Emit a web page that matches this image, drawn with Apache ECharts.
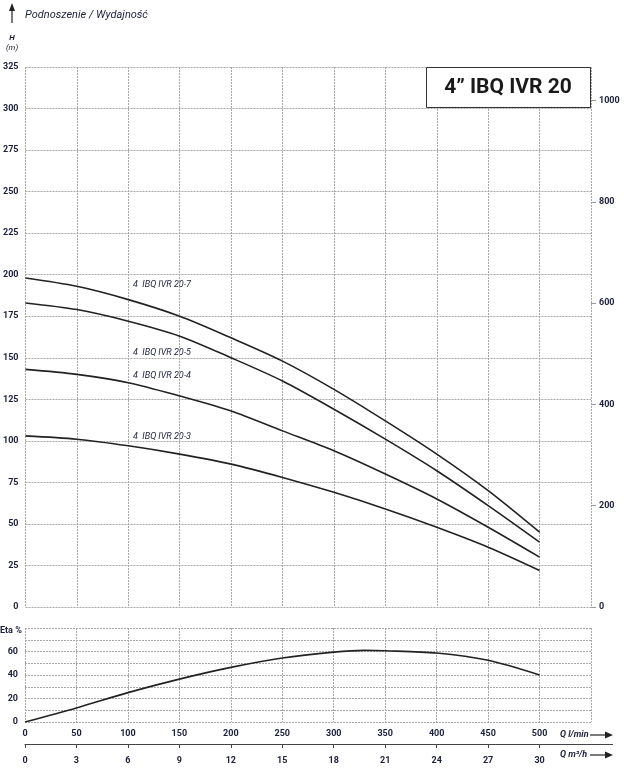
<!DOCTYPE html>
<html>
<head>
<meta charset="utf-8">
<script src="https://cdn.jsdelivr.net/npm/echarts@6/dist/echarts.min.js"></script>
<style>
  html, body { margin: 0; padding: 0; background: #fff; }
  #main { width: 624px; height: 772px; }
</style>
</head>
<body>
<div id="main"></div>
<script>
// przepływ Q w l/min
var qLmin = [0, 50, 100, 150, 200, 250, 300, 350, 400, 450, 500];
// wysokość podnoszenia H (m) dla poszczególnych pomp
var h207 = [198, 193, 185, 175, 162, 148, 131, 112, 92, 70, 45];
var h205 = [183, 179, 172, 163, 150, 136, 119, 101, 82, 61, 39];
var h204 = [143, 140, 135, 127, 118, 106, 94, 80, 65, 48, 30];
var h203 = [103, 101, 97, 92, 86, 78, 69, 59, 48, 36, 22];
// sprawność
var etaQ = [0, 50, 100, 150, 200, 250, 300, 330, 350, 400, 450, 500];
var etaVal = [0, 12, 25, 36.5, 46.5, 54.5, 59.5, 61, 60.7, 58.7, 52.5, 40];
// etykiety osi
var qTicks = [0, 50, 100, 150, 200, 250, 300, 350, 400, 450, 500];
var m3hTicks = [0, 3, 6, 9, 12, 15, 18, 21, 24, 27, 30];
var ftTicks = [0, 200, 400, 600, 800, 1000];
var etaTicks = [0, 20, 40, 60];

var navy = '#1b1f3b';
var font = 'Roboto';

function pairs(xs, ys) {
    var out = [];
    for (var i = 0; i < xs.length; i++) {
        out.push([xs[i], ys[i]]);
    }
    return out;
}

var dashed = { show: true, lineStyle: { color: '#a8a8a8', type: [2, 1], width: 1 } };
var tickLabel = { color: navy, fontFamily: font, fontWeight: 'bold', fontSize: 9 };

function curve(name, ys) {
    return {
        name: name,
        type: 'line',
        xAxisIndex: 0,
        yAxisIndex: 0,
        smooth: 0.3,
        symbol: 'none',
        lineStyle: { color: '#222', width: 1.6 },
        data: pairs(qLmin, ys)
    };
}

var myChart = echarts.init(document.getElementById('main'));

var option = {
    backgroundColor: '#fff',
    animation: false,
    grid: [
        { left: 25, top: 67, width: 566, height: 540 },
        { left: 25, top: 628, width: 566, height: 94 }
    ],
    xAxis: [
        {
            gridIndex: 0, type: 'value', min: 0, max: 550, interval: 50,
            axisLine: { show: false }, axisTick: { show: false },
            axisLabel: { show: false }, splitLine: dashed
        },
        {
            gridIndex: 1, type: 'value', min: 0, max: 550, interval: 50,
            axisLine: { show: false }, axisTick: { show: false },
            axisLabel: Object.assign({ customValues: qTicks, margin: 7 }, tickLabel),
            splitLine: dashed
        },
        {
            gridIndex: 1, type: 'value', position: 'bottom', offset: 22,
            min: 0, max: 33, interval: 3,
            axisLine: { show: true, lineStyle: { color: '#444', width: 1 } },
            axisTick: { show: true, length: 4, customValues: m3hTicks, lineStyle: { color: '#444' } },
            axisLabel: Object.assign({ customValues: m3hTicks, margin: 12 }, tickLabel),
            splitLine: { show: false }
        }
    ],
    yAxis: [
        {
            gridIndex: 0, type: 'value', min: 0, max: 325, interval: 25,
            axisLine: { show: false }, axisTick: { show: false },
            axisLabel: Object.assign({ margin: 7 }, tickLabel),
            splitLine: dashed
        },
        {
            gridIndex: 0, type: 'value', position: 'right', min: 0, max: 325 * 3.28084,
            interval: 200,
            axisLine: { show: false },
            axisTick: { show: true, length: 5, customValues: ftTicks, lineStyle: { color: '#999' } },
            axisLabel: Object.assign({
                customValues: ftTicks, margin: 8,
                formatter: function (v) { return String(v); }
            }, tickLabel),
            splitLine: { show: false }
        },
        {
            gridIndex: 1, type: 'value', min: 0, max: 80, interval: 10,
            axisLine: { show: false }, axisTick: { show: false },
            axisLabel: Object.assign({ customValues: etaTicks, margin: 7 }, tickLabel),
            splitLine: dashed
        }
    ],
    series: [
        curve('4 IBQ IVR 20-7', h207),
        curve('4 IBQ IVR 20-5', h205),
        curve('4 IBQ IVR 20-4', h204),
        curve('4 IBQ IVR 20-3', h203),
        {
            name: 'Eta',
            type: 'line',
            xAxisIndex: 1,
            yAxisIndex: 2,
            smooth: 0.3,
            symbol: 'none',
            lineStyle: { color: '#222', width: 1.6 },
            data: pairs(etaQ, etaVal)
        }
    ],
    graphic: [
        // strzałka i tytuł osi
        { type: 'line', shape: { x1: 12, y1: 23, x2: 12, y2: 9 }, style: { stroke: '#222', lineWidth: 1.2 } },
        { type: 'polygon', shape: { points: [[12, 3], [9, 11], [15, 11]] }, style: { fill: '#222' } },
        { type: 'text', left: 25, top: 10, style: { text: 'Podnoszenie / Wydajność', fill: navy, font: 'italic 11px Roboto' } },
        { type: 'text', x: 12, y: 38, style: { text: 'H', fill: navy, font: 'italic bold 8px Roboto', align: 'center', verticalAlign: 'middle' } },
        { type: 'text', x: 12, y: 48, style: { text: '(m)', fill: navy, font: 'italic 8px Roboto', align: 'center', verticalAlign: 'middle' } },
        { type: 'text', x: 0, y: 631, style: { text: 'Eta %', fill: navy, font: 'bold 9px Roboto', verticalAlign: 'middle' } },
        // tytuł w ramce
        {
            type: 'rect', shape: { x: 426.5, y: 67.5, width: 164, height: 40 },
            style: { fill: '#fff', stroke: '#333', lineWidth: 1 }, z: 10
        },
        {
            type: 'text', x: 508, y: 88, z: 11,
            style: { text: '4\u201D IBQ IVR 20', fill: '#1a1a1a', font: 'bold 21px Roboto', align: 'center', verticalAlign: 'middle' }
        },
        // etykiety krzywych
        { type: 'text', x: 133, y: 285, style: { text: '4  IBQ IVR 20-7', fill: navy, font: 'italic 9px Roboto', verticalAlign: 'middle' } },
        { type: 'text', x: 133, y: 353, style: { text: '4  IBQ IVR 20-5', fill: navy, font: 'italic 9px Roboto', verticalAlign: 'middle' } },
        { type: 'text', x: 133, y: 376, style: { text: '4  IBQ IVR 20-4', fill: navy, font: 'italic 9px Roboto', verticalAlign: 'middle' } },
        { type: 'text', x: 133, y: 437, style: { text: '4  IBQ IVR 20-3', fill: navy, font: 'italic 9px Roboto', verticalAlign: 'middle' } },
        // przedłużenie osi m3/h
        { type: 'line', shape: { x1: 591, y1: 744.5, x2: 613, y2: 744.5 }, style: { stroke: '#444', lineWidth: 1 } },
        // opisy osi Q
        { type: 'text', x: 560, y: 735, style: { text: 'Q l/min', fill: navy, font: 'italic bold 9px Roboto', verticalAlign: 'middle' } },
        { type: 'line', shape: { x1: 590, y1: 735, x2: 606, y2: 735 }, style: { stroke: '#222', lineWidth: 1.2 } },
        { type: 'polygon', shape: { points: [[613, 735], [605, 731.5], [605, 738.5]] }, style: { fill: '#222' } },
        { type: 'text', x: 560, y: 755, style: { text: 'Q m\u00B3/h', fill: navy, font: 'italic bold 9px Roboto', verticalAlign: 'middle' } },
        { type: 'line', shape: { x1: 590, y1: 755, x2: 606, y2: 755 }, style: { stroke: '#222', lineWidth: 1.2 } },
        { type: 'polygon', shape: { points: [[613, 755], [605, 751.5], [605, 758.5]] }, style: { fill: '#222' } }
    ]
};

myChart.setOption(option);
</script>
</body>
</html>
